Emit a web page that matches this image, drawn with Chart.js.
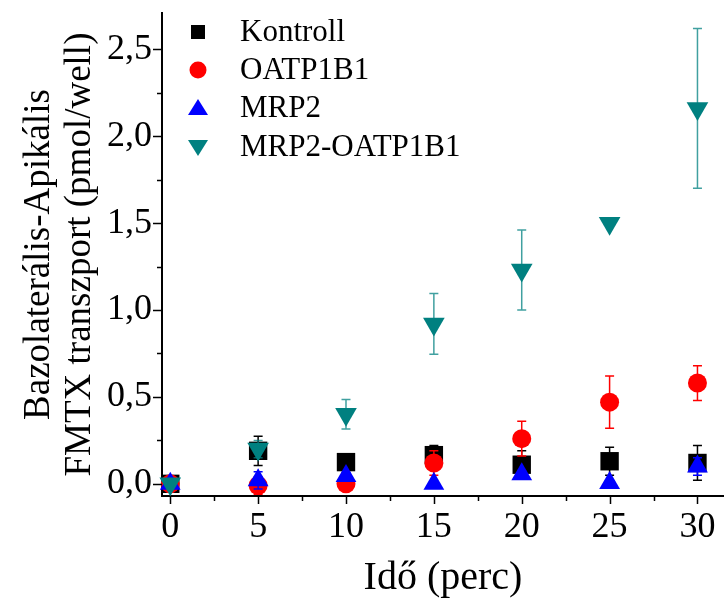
<!DOCTYPE html>
<html>
<head>
<meta charset="utf-8">
<script src="https://cdn.jsdelivr.net/npm/chart.js@4/dist/chart.umd.min.js"></script>
<style>
  html, body { margin: 0; padding: 0; background: #fff; }
  #wrap { width: 724px; height: 601px; }
</style>
</head>
<body>
<div id="wrap"><canvas id="chart" width="724" height="601"></canvas></div>
<script>
// idő (perc)
const times = [0, 5, 10, 15, 20, 25, 30];

// mért értékek (pmol/well) és szórás
const kontroll = [0, 0.19, 0.125, 0.165, 0.11, 0.13, 0.12];
const kontrollErr = [0.01, 0.084, 0.02, 0.055, 0.08, 0.08, 0.1];
const oatp = [0, -0.01, 0, 0.12, 0.26, 0.47, 0.58];
const oatpErr = [0.01, 0.05, 0.04, 0.07, 0.1, 0.15, 0.1];
const mrp2 = [0, 0.02, 0.045, 0, 0.055, 0.005, 0.1];
const mrp2Err = [0.01, 0.05, 0.02, 0.01, 0.02, 0.01, 0.05];
const mrp2Oatp = [0, 0.2, 0.4, 0.92, 1.23, 1.5, 2.16];
const mrp2OatpErr = [0.01, 0.05, 0.085, 0.175, 0.23, 0.01, 0.46];

const legendNames = ['Kontroll', 'OATP1B1', 'MRP2', 'MRP2-OATP1B1'];

// tengely beosztások
const xTicks = [0, 5, 10, 15, 20, 25, 30];
const xMinorTicks = [2.5, 7.5, 12.5, 17.5, 22.5, 27.5];
const yTicks = [0, 0.5, 1.0, 1.5, 2.0, 2.5];
const yMinorTicks = [0.25, 0.75, 1.25, 1.75, 2.25];

const SERIF = "'Liberation Serif', 'Times New Roman', serif";

const toPoints = (vals) => vals.map((v, i) => ({ x: times[i], y: v }));

// hibasávok rajzolása a pontok alá
const errorBars = {
    id: 'errorBars',
    beforeDatasetDraw(chart, args) {
        const ds = chart.data.datasets[args.index];
        if (!ds.errors) return;
        const yScale = chart.scales.y;
        const ctx = chart.ctx;
        ctx.save();
        ctx.strokeStyle = ds.errorColor;
        ctx.lineWidth = 1.5;
        args.meta.data.forEach((pt, i) => {
            const e = ds.errors[i];
            if (!e) return;
            const v = ds.data[i].y;
            const yTop = yScale.getPixelForValue(v + e);
            const yBot = yScale.getPixelForValue(v - e);
            ctx.beginPath();
            ctx.moveTo(pt.x, yTop); ctx.lineTo(pt.x, yBot);
            ctx.moveTo(pt.x - 4.5, yTop); ctx.lineTo(pt.x + 4.5, yTop);
            ctx.moveTo(pt.x - 4.5, yBot); ctx.lineTo(pt.x + 4.5, yBot);
            ctx.stroke();
        });
        ctx.restore();
    }
};

// kifelé álló fő- és mellékosztások
const tickMarks = {
    id: 'tickMarks',
    afterDraw(chart) {
        const ctx = chart.ctx;
        const xs = chart.scales.x, ys = chart.scales.y;
        const area = chart.chartArea;
        ctx.save();
        ctx.strokeStyle = '#000';
        ctx.lineWidth = 1.5;
        ctx.beginPath();
        const xt = (vals, len) => vals.forEach(v => {
            const px = Math.round(xs.getPixelForValue(v)) + 0.5;
            ctx.moveTo(px, area.bottom); ctx.lineTo(px, area.bottom + len);
        });
        const yt = (vals, len) => vals.forEach(v => {
            const py = Math.round(ys.getPixelForValue(v)) + 0.5;
            ctx.moveTo(area.left, py); ctx.lineTo(area.left - len, py);
        });
        xt(xTicks, 8); xt(xMinorTicks, 5);
        yt(yTicks, 9); yt(yMinorTicks, 5);
        ctx.stroke();
        ctx.restore();
    }
};

// jelmagyarázat a rajzterületen belül
const insideLegend = {
    id: 'insideLegend',
    afterDraw(chart) {
        const ctx = chart.ctx;
        const mx = 198, tx = 240;
        const rows = [32, 70, 108, 147];
        ctx.save();
        chart.data.datasets.forEach((ds, i) => {
            const y = rows[i];
            ctx.fillStyle = ds.backgroundColor;
            ctx.beginPath();
            if (ds.pointStyle === 'rect') {
                ctx.rect(mx - 7, y - 7, 14, 14);
            } else if (ds.pointStyle === 'circle') {
                ctx.arc(mx, y, 8.5, 0, Math.PI * 2);
            } else if (ds.pointRotation === 180) {
                ctx.moveTo(mx - 10, y - 7); ctx.lineTo(mx + 10, y - 7); ctx.lineTo(mx, y + 9);
            } else {
                ctx.moveTo(mx - 10, y + 7); ctx.lineTo(mx + 10, y + 7); ctx.lineTo(mx, y - 9);
            }
            ctx.closePath();
            ctx.fill();
            ctx.fillStyle = '#000';
            ctx.font = "31px " + SERIF;
            ctx.textBaseline = 'middle';
            ctx.fillText(legendNames[i], tx, y + 1);
        });
        ctx.restore();
    }
};

// a tengelyek ne foglaljanak helyet a szélső feliratoknak
const noEdgePadding = (scale) => {
    scale.paddingTop = 0; scale.paddingBottom = 0;
    scale.paddingLeft = 0; scale.paddingRight = 0;
};

const ctx = document.getElementById('chart').getContext('2d');
new Chart(ctx, {
    type: 'scatter',
    data: {
        datasets: [
            {
                label: legendNames[0], data: toPoints(kontroll), errors: kontrollErr,
                errorColor: '#000', backgroundColor: '#000', borderColor: '#000',
                pointStyle: 'rect', pointRadius: 13, borderWidth: 0, order: 4, clip: false
            },
            {
                label: legendNames[1], data: toPoints(oatp), errors: oatpErr,
                errorColor: '#ff0000', backgroundColor: '#ff0000', borderColor: '#ff0000',
                pointStyle: 'circle', pointRadius: 9.5, borderWidth: 0, order: 3, clip: false
            },
            {
                label: legendNames[2], data: toPoints(mrp2), errors: mrp2Err,
                errorColor: '#0000ff', backgroundColor: '#0000ff', borderColor: '#0000ff',
                pointStyle: 'triangle', pointRadius: 12, borderWidth: 0, order: 2, clip: false
            },
            {
                label: legendNames[3], data: toPoints(mrp2Oatp), errors: mrp2OatpErr,
                errorColor: 'rgba(0,128,128,0.75)', backgroundColor: '#008080', borderColor: '#008080',
                pointStyle: 'triangle', pointRotation: 180, rotation: 180, pointRadius: 12.5,
                borderWidth: 0, order: 1, clip: false
            }
        ]
    },
    options: {
        responsive: false,
        animation: false,
        devicePixelRatio: 1,
        layout: { autoPadding: false, padding: { top: 13, right: 0, left: 0, bottom: 0 } },
        plugins: {
            legend: { display: false },
            tooltip: { enabled: false }
        },
        scales: {
            x: {
                type: 'linear',
                min: -0.47,
                max: 31.51,
                afterBuildTicks: (scale) => { scale.ticks = xTicks.map(v => ({ value: v })); },
                afterFit: (scale) => { scale.height = 105; noEdgePadding(scale); },
                grid: { drawOnChartArea: false, color: 'rgba(0,0,0,0)', tickLength: 9 },
                border: { display: true, color: '#000', width: 2 },
                ticks: {
                    color: '#000', padding: 1, maxRotation: 0,
                    font: { family: SERIF, size: 36 },
                    callback: (v) => String(v)
                },
                title: {
                    display: true, text: 'Idő (perc)', color: '#000',
                    font: { family: SERIF, size: 40, lineHeight: 1.15 },
                    padding: { top: 0, bottom: 0 }
                }
            },
            y: {
                type: 'linear',
                min: -0.07,
                max: 2.709,
                afterBuildTicks: (scale) => { scale.ticks = yTicks.map(v => ({ value: v })); },
                afterFit: (scale) => { scale.width = 162; noEdgePadding(scale); },
                grid: { drawOnChartArea: false, color: 'rgba(0,0,0,0)', tickLength: 9 },
                border: { display: true, color: '#000', width: 2 },
                ticks: {
                    color: '#000', padding: 1,
                    font: { family: SERIF, size: 36 },
                    callback: (v) => v.toFixed(1).replace('.', ',')
                },
                title: {
                    display: true,
                    text: ['Bazolaterális-Apikális', 'FMTX transzport (pmol/well)'],
                    color: '#000',
                    font: { family: SERIF, size: 37, lineHeight: 1.1 },
                    padding: { top: 19, bottom: 0 }
                }
            }
        }
    },
    plugins: [errorBars, tickMarks, insideLegend]
});
</script>
</body>
</html>
